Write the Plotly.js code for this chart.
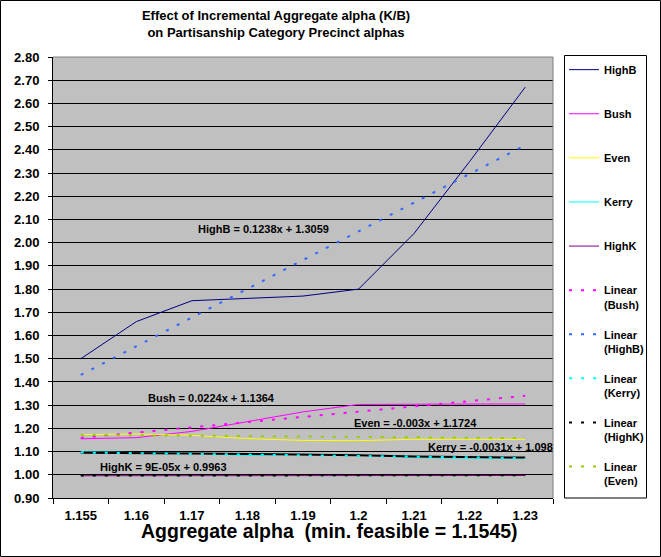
<!DOCTYPE html>
<html>
<head>
<meta charset="utf-8">
<script src="https://cdn.plot.ly/plotly-3.0.1.min.js"></script>
<style>
  html, body { margin: 0; padding: 0; background: #fff; }
  #chart { width: 661px; height: 557px; }
</style>
</head>
<body>
<div id="chart"></div>
<script>
// categories on the x axis (aggregate alpha)
const categories = ['1.155', '1.16', '1.17', '1.18', '1.19', '1.2', '1.21', '1.22', '1.23'];

// precinct alpha per partisanship category
const highB = [1.50, 1.66, 1.75, 1.76, 1.77, 1.80, 2.04, 2.35, 2.67];
const bush  = [1.155, 1.16, 1.187, 1.23, 1.271, 1.303, 1.305, 1.305, 1.305];
const even  = [1.173, 1.176, 1.17, 1.156, 1.148, 1.147, 1.153, 1.153, 1.153];
const kerry = [1.099, 1.097, 1.093, 1.083, 1.088, 1.085, 1.074, 1.072, 1.071];
const highK = [0.996, 0.996, 0.996, 0.996, 0.997, 0.997, 0.997, 0.997, 0.997];
// unlabelled black line lying on the Kerry series
const blackLine = [1.095, 1.095, 1.092, 1.090, 1.088, 1.084, 1.079, 1.077, 1.074];

// linear trendlines, first and last category
const trendX      = ['1.155', '1.23'];
const trendBush   = [1.159, 1.340];
const trendHighB  = [1.43, 2.42];
const trendKerry  = [1.096, 1.072];
const trendHighK  = [0.997, 0.998];
const trendEven   = [1.172, 1.158];

const yTicks = [];
for (let v = 0.9; v < 2.805; v += 0.1) yTicks.push(+v.toFixed(2));

const FONT = 'Liberation Sans, Arial, sans-serif';
const DOT = '3px,9px';
const pad = '<br>&nbsp;';

function solid(name, y, color, width) {
    return {
        type: 'scatter', mode: 'lines', name: name + pad, legendgroup: name,
        x: categories, y: y,
        line: { color: color, width: width || 1 },
        hoverinfo: 'x+y+name'
    };
}
function trend(name, y, color) {
    return {
        type: 'scatter', mode: 'lines', name: 'Linear<br>(' + name + ')', legendgroup: 'lin' + name,
        x: trendX, y: y,
        line: { color: color, width: 2, dash: DOT },
        hoverinfo: 'x+y+name'
    };
}

const black = solid('extra', blackLine, '#000000', 2);
black.showlegend = false;

const traces = [
    solid('HighB', highB, '#000080'),
    solid('Bush', bush, '#ff00ff'),
    solid('Even', even, '#ffff00'),
    solid('Kerry', kerry, '#00ffff'),
    black,
    solid('HighK', highK, '#800080'),
    trend('Bush', trendBush, '#ff00ff'),
    trend('HighB', trendHighB, '#3366ff'),
    trend('Kerry', trendKerry, '#00ffff'),
    trend('HighK', trendHighK, '#000000'),
    trend('Even', trendEven, '#99cc00')
];

// pixel -> paper helpers (plot area 53..553 x 57..498)
const px = (x) => (x - 53) / 500;
const py = (y) => (498 - y) / 441;

function label(text, x, y) {
    return {
        xref: 'paper', yref: 'paper', x: px(x), y: py(y),
        text: text, showarrow: false, xanchor: 'center', yanchor: 'middle',
        font: { family: FONT, size: 11, color: '#000', weight: 'bold' }
    };
}

const layout = {
    width: 661, height: 557,
    margin: { l: 53, r: 108, t: 57, b: 59, autoexpand: false },
    paper_bgcolor: '#ffffff',
    plot_bgcolor: '#c0c0c0',
    font: { family: FONT, color: '#000' },
    showlegend: true,
    title: {
        text: 'Effect of Incremental Aggregate alpha (K/B)<br>on Partisanship Category Precinct alphas',
        font: { family: FONT, size: 13, color: '#000', weight: 'bold' },
        x: 276 / 661, xanchor: 'center', xref: 'container',
        y: 1 - 20 / 557, yanchor: 'top', yref: 'container'
    },
    xaxis: {
        type: 'category', categoryorder: 'array', categoryarray: categories,
        range: [-0.5, 8.5],
        tickson: 'boundaries', ticks: 'outside', ticklen: 5, tickcolor: '#000',
        showgrid: false, showline: true, linecolor: '#000', linewidth: 1,
        tickfont: { family: FONT, size: 13, color: '#000', weight: 'bold' },
        ticklabelstandoff: 5,
        fixedrange: true
    },
    yaxis: {
        range: [0.9, 2.8], tickvals: yTicks, tickformat: '.2f',
        ticks: 'outside', ticklen: 4, tickcolor: '#000',
        showgrid: true, gridcolor: '#000', gridwidth: 1,
        showline: true, linecolor: '#000', linewidth: 1,
        zeroline: false,
        tickfont: { family: FONT, size: 13, color: '#000', weight: 'bold' },
        ticklabelstandoff: 6,
        fixedrange: true
    },
    legend: {
        x: px(564), y: py(56), xanchor: 'left', yanchor: 'top',
        traceorder: 'grouped', tracegroupgap: 12.5, valign: 'top',
        maxheight: 557,
        bgcolor: 'rgba(0,0,0,0)', borderwidth: 0,
        font: { family: FONT, size: 11, color: '#000', weight: 'bold' }
    },
    shapes: [
        // grey plot-area border on top and right
        { type: 'line', xref: 'paper', yref: 'paper', x0: 0, x1: 1, y0: 1, y1: 1, line: { color: '#808080', width: 1 } },
        { type: 'line', xref: 'paper', yref: 'paper', x0: 1, x1: 1, y0: 0, y1: 1, line: { color: '#808080', width: 1 } },
        // legend box
        { type: 'rect', xref: 'paper', yref: 'paper', x0: px(564.5), x1: px(646.5), y0: py(498), y1: py(55.5), line: { color: '#000', width: 1 } },
        // chart frame
        { type: 'rect', xref: 'paper', yref: 'paper', x0: px(0.5), x1: px(660.5), y0: py(556.5), y1: py(0.5), line: { color: '#000', width: 1 } }
    ],
    annotations: [
        label('HighB = 0.1238x + 1.3059', 263, 229),
        label('Bush = 0.0224x + 1.1364', 211, 398),
        label('Even = -0.003x + 1.1724', 415, 423),
        label('Kerry = -0.0031x + 1.098', 490, 447),
        label('HighK = 9E-05x + 0.9963', 163.5, 467),
        {
            xref: 'paper', yref: 'paper', x: px(329.5), y: py(531),
            text: 'Aggregate alpha&nbsp; (min. feasible = 1.1545)', showarrow: false,
            xanchor: 'center', yanchor: 'middle',
            font: { family: FONT, size: 19.5, color: '#000', weight: 'bold' }
        }
    ]
};

Plotly.newPlot('chart', traces, layout, { displayModeBar: false });
</script>
</body>
</html>
